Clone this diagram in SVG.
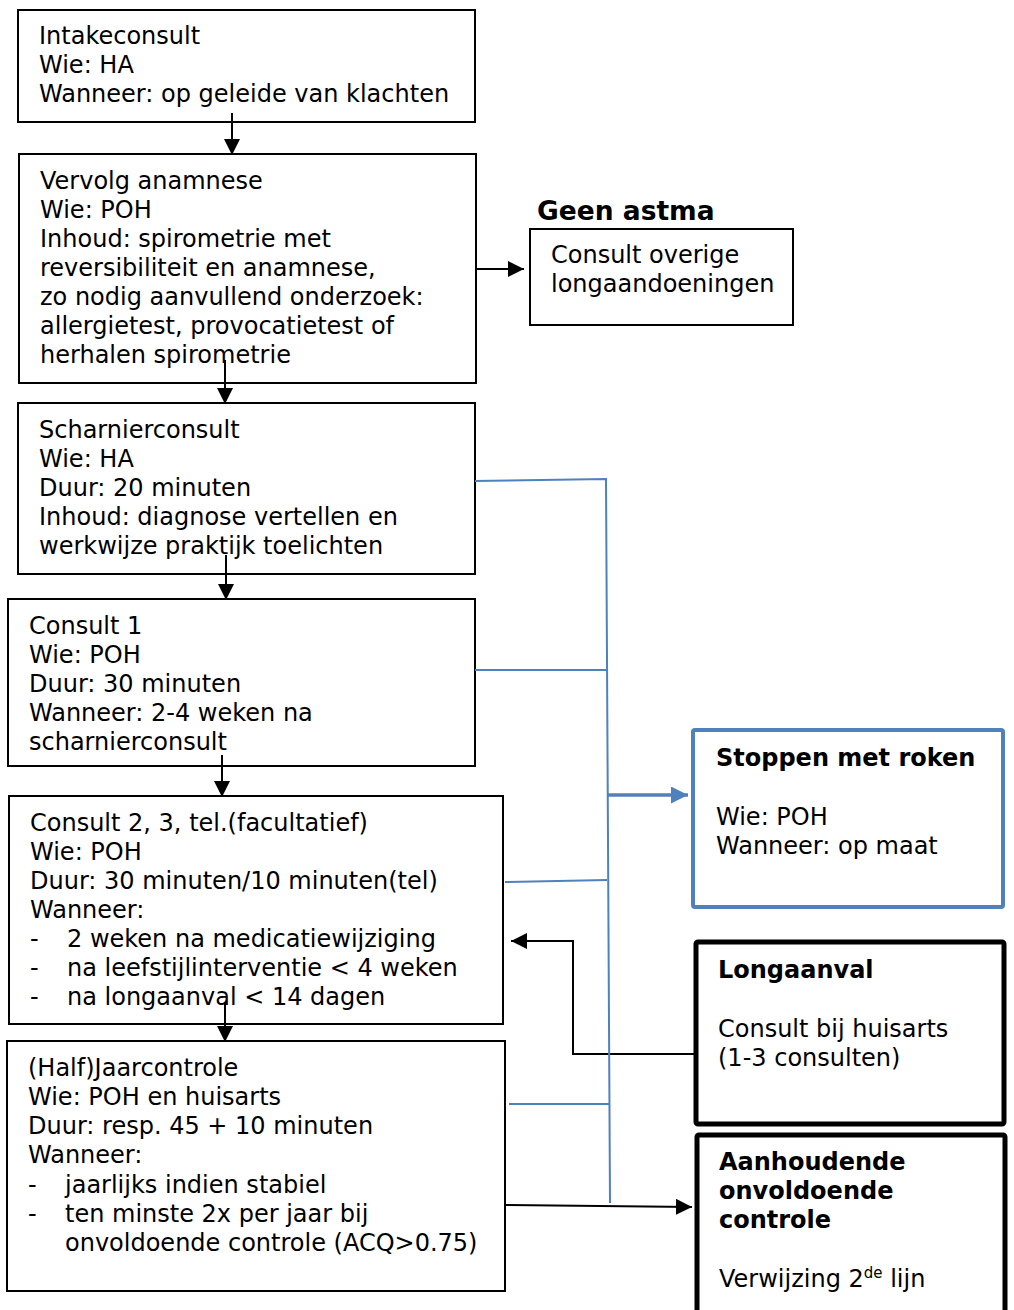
<svg xmlns="http://www.w3.org/2000/svg" width="1014" height="1310" viewBox="0 0 1014 1310">
<defs>
<style>
text{font-family:"DejaVu Sans","Verdana",sans-serif;font-size:24px;fill:#000}
.b{font-weight:bold}
.box{fill:#fff;stroke:#000;stroke-width:2}
.thick{fill:#fff;stroke:#000;stroke-width:5}
.bluebox{fill:#fff;stroke:#4f81bd;stroke-width:4}
.ln{fill:none;stroke:#000;stroke-width:2}
.bl{fill:none;stroke:#4f81bd;stroke-width:2}
</style>
<marker id="ahb" viewBox="0 0 10 10" refX="10" refY="5" markerWidth="17" markerHeight="17" orient="auto" markerUnits="userSpaceOnUse">
<path d="M0,0 L10,5 L0,10 z" fill="#4f81bd"/>
</marker>
<marker id="ahk" viewBox="0 0 10 10" refX="10" refY="5" markerWidth="16" markerHeight="16" orient="auto" markerUnits="userSpaceOnUse">
<path d="M0,0 L10,5 L0,10 z" fill="#000"/>
</marker>
</defs>
<rect width="1014" height="1310" fill="#fff"/>

<g id="intake">
<rect class="box" x="18" y="10" width="457" height="112"/>
<text x="39" y="43.5">Intakeconsult</text>
<text x="39" y="72.8">Wie: HA</text>
<text x="39" y="102">Wanneer: op geleide van klachten</text>
</g>

<g id="vervolg">
<rect class="box" x="19" y="154" width="457" height="229"/>
<text x="40" y="189">Vervolg anamnese</text>
<text x="40" y="218">Wie: POH</text>
<text x="40" y="247">Inhoud: spirometrie met</text>
<text x="40" y="276">reversibiliteit en anamnese,</text>
<text x="40" y="305">zo nodig aanvullend onderzoek:</text>
<text x="40" y="334">allergietest, provocatietest of</text>
<text x="40" y="363">herhalen spirometrie</text>
</g>

<g id="geenastma">
<text class="b" x="537" y="220" style="font-size:26.5px">Geen astma</text>
<rect class="box" x="530" y="229" width="263" height="96"/>
<text x="551" y="263">Consult overige</text>
<text x="551" y="292">longaandoeningen</text>
</g>

<g id="scharnier">
<rect class="box" x="18" y="403" width="457" height="171"/>
<text x="39" y="438">Scharnierconsult</text>
<text x="39" y="467">Wie: HA</text>
<text x="39" y="496">Duur: 20 minuten</text>
<text x="39" y="525">Inhoud: diagnose vertellen en</text>
<text x="39" y="554">werkwijze praktijk toelichten</text>
</g>

<g id="consult1">
<rect class="box" x="8" y="599" width="467" height="167"/>
<text x="29" y="634">Consult 1</text>
<text x="29" y="663">Wie: POH</text>
<text x="29" y="692">Duur: 30 minuten</text>
<text x="29" y="721">Wanneer: 2-4 weken na</text>
<text x="29" y="750">scharnierconsult</text>
</g>

<g id="consult2">
<rect class="box" x="9" y="796" width="494" height="228"/>
<text x="30" y="831">Consult 2, 3, tel.(facultatief)</text>
<text x="30" y="860">Wie: POH</text>
<text x="30" y="889">Duur: 30 minuten/10 minuten(tel)</text>
<text x="30" y="918">Wanneer:</text>
<text x="30" y="947">-</text><text x="67" y="947">2 weken na medicatiewijziging</text>
<text x="30" y="976">-</text><text x="67" y="976">na leefstijlinterventie &lt; 4 weken</text>
<text x="30" y="1005">-</text><text x="67" y="1005">na longaanval &lt; 14 dagen</text>
</g>

<g id="jaarcontrole">
<rect class="box" x="7" y="1041" width="498" height="250"/>
<text x="28" y="1076">(Half)Jaarcontrole</text>
<text x="28" y="1105">Wie: POH en huisarts</text>
<text x="28" y="1134">Duur: resp. 45 + 10 minuten</text>
<text x="28" y="1163">Wanneer:</text>
<text x="28" y="1193">-</text><text x="65" y="1193">jaarlijks indien stabiel</text>
<text x="28" y="1222">-</text><text x="65" y="1222">ten minste 2x per jaar bij</text>
<text x="65" y="1251">onvoldoende controle (ACQ&gt;0.75)</text>
</g>

<g id="stoppen">
<rect class="bluebox" x="693" y="730" width="310" height="177" rx="2"/>
<text class="b" x="716" y="766">Stoppen met roken</text>
<text x="716" y="825">Wie: POH</text>
<text x="716" y="854">Wanneer: op maat</text>
</g>

<g id="longaanval">
<rect class="thick" x="696" y="942" width="308" height="182" rx="2"/>
<text class="b" x="718" y="978">Longaanval</text>
<text x="718" y="1037">Consult bij huisarts</text>
<text x="718" y="1066">(1-3 consulten)</text>
</g>

<g id="aanhoudend">
<rect class="thick" x="697" y="1135" width="308" height="190" rx="2"/>
<text class="b" x="719" y="1170">Aanhoudende</text>
<text class="b" x="719" y="1199">onvoldoende</text>
<text class="b" x="719" y="1228">controle</text>
<text x="719" y="1287">Verwijzing 2<tspan style="font-size:15px" dy="-9">de</tspan><tspan dy="9"> lijn</tspan></text>
</g>

<g id="connectors">
<line class="ln" x1="232" y1="113" x2="232" y2="155" marker-end="url(#ahk)"/>
<line class="ln" x1="225" y1="360" x2="225" y2="404" marker-end="url(#ahk)"/>
<line class="ln" x1="226" y1="555" x2="226" y2="600" marker-end="url(#ahk)"/>
<line class="ln" x1="222" y1="755" x2="222" y2="797" marker-end="url(#ahk)"/>
<line class="ln" x1="225" y1="1003" x2="225" y2="1042" marker-end="url(#ahk)"/>
<line class="ln" x1="476" y1="269" x2="524" y2="269" marker-end="url(#ahk)"/>
<polyline class="ln" points="695,1054 573,1054 573,941 511,941" marker-end="url(#ahk)"/>
<line class="ln" x1="505" y1="1205" x2="692" y2="1207" marker-end="url(#ahk)"/>
<polyline class="bl" points="475,481 606,479 610,1203"/>
<line class="bl" x1="475" y1="670" x2="608" y2="670"/>
<line class="bl" x1="505" y1="882" x2="607" y2="880"/>
<line class="bl" x1="509" y1="1104" x2="609" y2="1104"/>
<line class="bl" style="stroke-width:3.5px" x1="607" y1="795" x2="688" y2="795" marker-end="url(#ahb)"/>
</g>
</svg>
